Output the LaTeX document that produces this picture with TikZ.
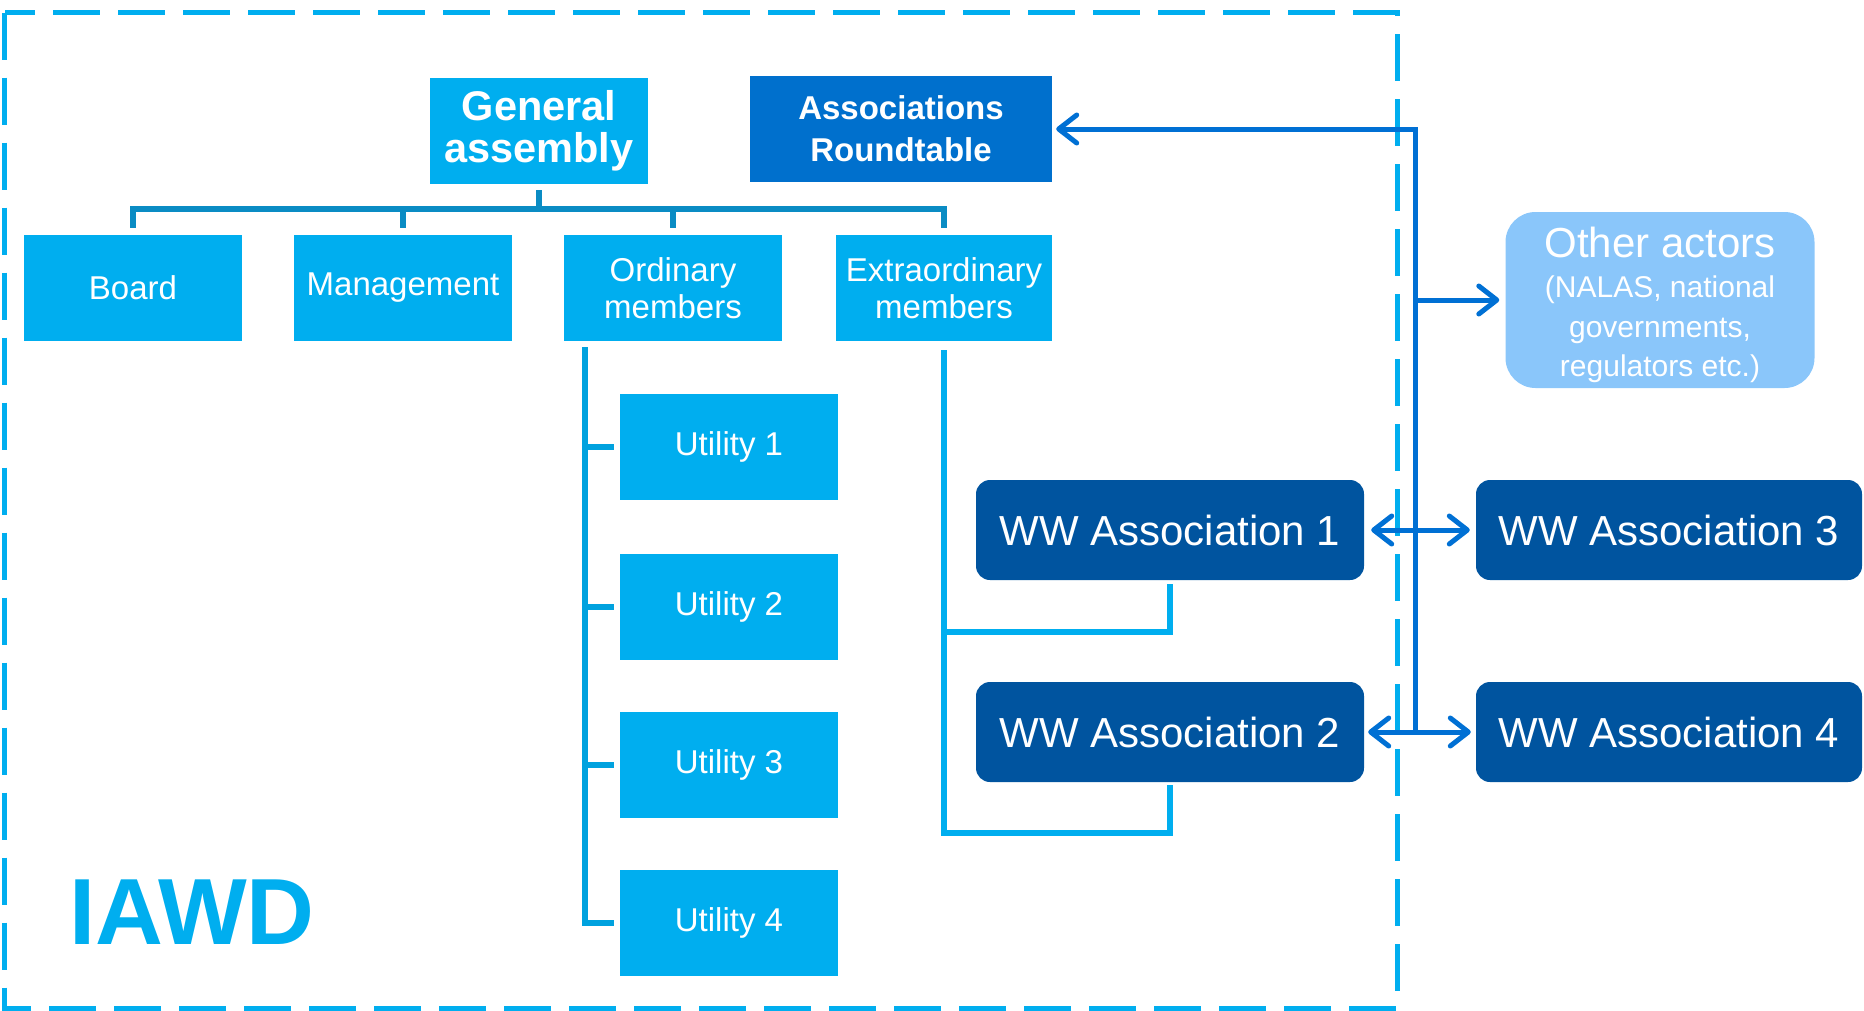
\documentclass[tikz,border=0pt]{standalone}
\usepackage{fontspec}
\setmainfont{Liberation Sans}
\usetikzlibrary{arrows.meta}
\definecolor{iawd-cyan}{HTML}{00AEEF}
\definecolor{roundtable-blue}{HTML}{0070CD}
\definecolor{ww-navy}{HTML}{00549F}
\definecolor{actor-sky}{HTML}{8AC6FA}
\definecolor{bus-teal}{HTML}{0A8CC4}
\definecolor{utility-cyan}{HTML}{00A2DF}
\definecolor{link-blue}{HTML}{0070D4}

\begin{document}
\begin{tikzpicture}[x=1pt, y=-1pt,
    >={Straight Barb[length=18pt, width=28pt, round]},
    box/.style={fill=iawd-cyan, text=white, minimum width=218pt, minimum height=106pt, inner sep=0pt, align=center, font=\fontsize{33}{37}\selectfont},
    wwbox/.style={fill=ww-navy, text=white, rounded corners=14pt, minimum width=388pt, minimum height=100pt, inner sep=0pt, font=\fontsize{42}{44}\selectfont},
    orgline/.style={bus-teal, line width=6pt},
    memberline/.style={utility-cyan, line width=5.5pt},
    assocline/.style={iawd-cyan, line width=5.5pt},
    link/.style={link-blue, line width=5pt}]
    \useasboundingbox (0,0) rectangle (1864,1010);
    \draw[iawd-cyan, line width=5pt, dash pattern=on 47pt off 18pt] (4.75,12.7) rectangle (1397,1008);

    \node[box, font=\bfseries\fontsize{41.5}{42}\selectfont] (ga) at (539,131) {General\\assembly};
    \node[box, fill=roundtable-blue, minimum width=302pt, font=\bfseries\fontsize{33}{42}\selectfont] (assoc) at (901,129) {Associations\\Roundtable};
    \node[box] (board) at (133,288) {Board};
    \node[box] (mgmt) at (403,288) {Management};
    \node[box] (ordinary) at (673,288) {Ordinary\\members};
    \node[box, minimum width=216pt] (extra) at (944,288) {Extraordinary\\members};
    \foreach \i/\y in {1/447, 2/607, 3/765, 4/923}
      \node[box] (utility\i) at (729,\y) {Utility \i};
    \node[wwbox] (ww1) at (1170,530) {WW Association 1};
    \node[wwbox] (ww2) at (1170,732) {WW Association 2};
    \node[wwbox, minimum width=386pt] (ww3) at (1669,530) {WW Association 3};
    \node[wwbox, minimum width=386pt] (ww4) at (1669,732) {WW Association 4};
    \node[fill=actor-sky, rounded corners=30pt, minimum width=309pt, minimum height=176pt, inner sep=0pt] (actors) at (1660,300) {};
    \node[text=white, inner sep=0pt, align=center, font=\fontsize{30}{39.5}\selectfont] (actors text) at ([yshift=-5pt]actors.center) {{\fontsize{42}{42}\selectfont Other actors}\\[1pt](NALAS, national\\governments,\\regulators etc.)};
    \node[text=iawd-cyan, inner sep=0pt, font=\bfseries\fontsize{94}{94}\selectfont] (iawd) at (192,912) {IAWD};

    \coordinate (bus) at (0,209);
    \draw[orgline] ([yshift=-6pt]ga.south) -- (ga.south |- bus);
    \draw[orgline] ([yshift=7pt]board.north) -- (board.north |- bus) -- (extra.north |- bus) -- ([yshift=7pt]extra.north);
    \foreach \n in {mgmt, ordinary}
      \draw[orgline] (\n.north |- bus) -- ([yshift=7pt]\n.north);

    \coordinate (trunk) at ([xshift=21pt]ordinary.south west);
    \draw[memberline] ([yshift=-6pt]trunk) |- ([xshift=-6pt]utility4.west);
    \foreach \i in {1,2,3}
      \draw[memberline] (trunk |- utility\i.west) -- ([xshift=-6pt]utility\i.west);

    \coordinate (ww1 foot) at ([yshift=-52pt]ww1.south);
    \coordinate (ww2 foot) at ([yshift=-51pt]ww2.south);
    \draw[assocline] ([yshift=-9pt]extra.south) |- (ww2 foot) -- ([yshift=-3pt]ww2.south);
    \draw[assocline] (extra.south |- ww1 foot) -- (ww1 foot) -- ([yshift=-4pt]ww1.south);

    \coordinate (spine top) at (1415,129);
    \coordinate (spine bottom) at (1415,732);
    \draw[link, <-] ([xshift=4pt]assoc.east) -- (spine top) -- (spine bottom);
    \draw[link, ->] (spine top |- actors.west) -- ([xshift=-6pt]actors.west);
    \draw[link, <->] ([xshift=7pt]ww1.east) -- ([xshift=-6pt]ww3.west);
    \draw[link, <->] ([xshift=4pt]ww2.east) -- ([xshift=-5pt]ww4.west);
\end{tikzpicture}
\end{document}
